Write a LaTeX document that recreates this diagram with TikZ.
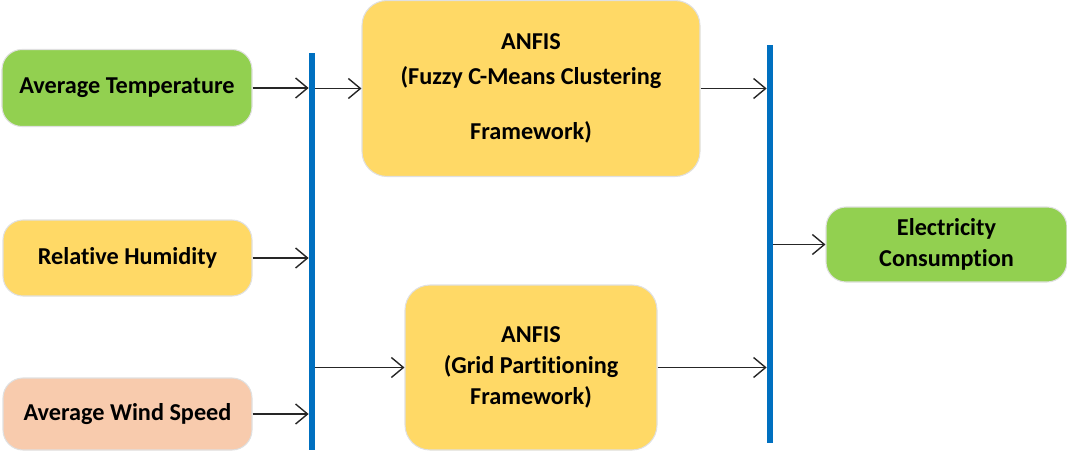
\documentclass[tikz,border=0pt]{standalone}
\usepackage{fontspec}
\setmainfont{Carlito}[Ligatures=NoCommon]
\usetikzlibrary{arrows.meta,positioning,calc}
\definecolor{ingreen}{HTML}{92D050}
\definecolor{inyellow}{HTML}{FFD966}
\definecolor{inpeach}{HTML}{F8CBAD}
\definecolor{barblue}{HTML}{0070C0}
\tikzset{box/.style={draw=black!12,line width=0.6pt,rounded corners=0.4cm,align=center,inner sep=3pt,font=\bfseries\fontsize{13.8}{17.6}\selectfont},bar/.style={fill=barblue,draw=none,minimum width=0.12cm,inner sep=0pt},arrow/.style={-{Straight Barb[length=2.4mm,width=4mm]},line width=0.8pt,draw=black!85}}

\begin{document}
\begin{tikzpicture}
\useasboundingbox (0,0) rectangle (21.34,9.06);
\node[box,fill=ingreen,minimum width=5.0cm,minimum height=1.54cm] (avgt) at (2.54,7.30) {Average Temperature};
\node[box,fill=inyellow,minimum width=4.98cm,minimum height=1.52cm] (relh) at (2.55,3.90) {Relative Humidity};
\node[box,fill=inpeach,minimum width=4.98cm,minimum height=1.44cm] (avgw) at (2.55,0.78) {Average Wind Speed};
\node[bar,minimum height=7.94cm] (bar1) at (6.24,4.03) {};
\node[box,fill=inyellow,rounded corners=0.5cm,minimum width=6.76cm,minimum height=3.52cm] (fcm) at (10.62,7.29) {ANFIS\\[2.3pt](Fuzzy C-Means Clustering\\[13.6pt]Framework)};
\node[box,fill=inyellow,rounded corners=0.5cm,minimum width=5.04cm,minimum height=3.3cm] (gp) at (10.62,1.71) {ANFIS\\(Grid Partitioning\\Framework)};
\node[bar,minimum height=7.96cm] (bar2) at (15.4,4.18) {};
\node[box,fill=ingreen,minimum width=4.82cm,minimum height=1.5cm] (elec) at (18.93,4.17) {Electricity\\Consumption};
\draw[arrow](avgt.east)--(avgt.east-|bar1.west);\draw[arrow](relh.east)--(relh.east-|bar1.west);\draw[arrow](avgw.east)--(avgw.east-|bar1.west);
\draw[arrow](bar1.east|-fcm.west)--(fcm.west);\draw[arrow](bar1.east|-gp.west)--(gp.west);
\draw[arrow](fcm.east)--(fcm.east-|bar2.west);\draw[arrow](gp.east)--(gp.east-|bar2.west);\draw[arrow](bar2.east|-elec.west)--(elec.west);
\end{tikzpicture}
\end{document}
